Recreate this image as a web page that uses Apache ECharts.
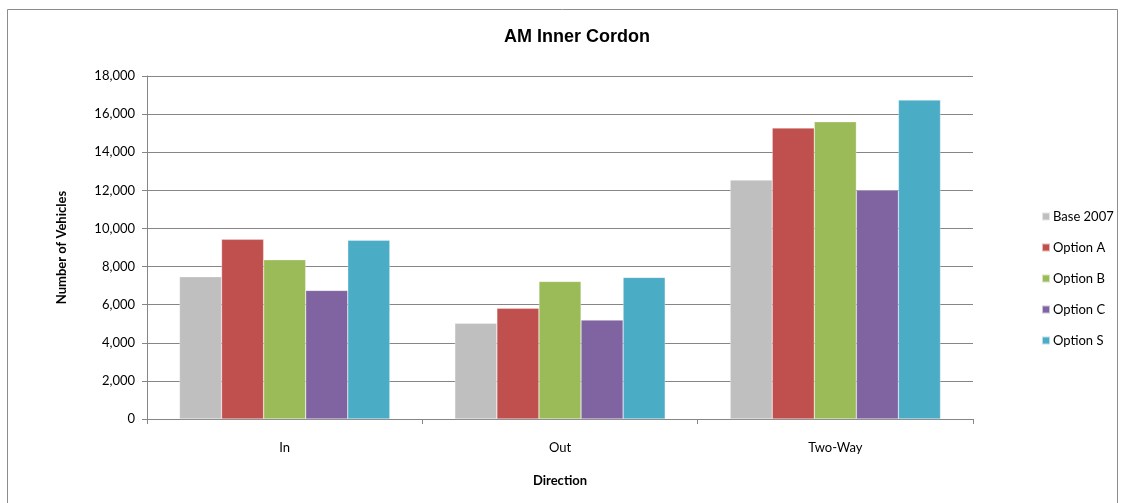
<!DOCTYPE html>
<html><head><meta charset="utf-8">
<script src="https://cdn.jsdelivr.net/npm/echarts@6/dist/echarts.min.js"></script>
<style>html,body{margin:0;padding:0;background:#fff}#c{width:1126px;height:503px}</style>
</head><body><div id="c"></div>
<script>
const categories = ['In', 'Out', 'Two-Way'];
const seriesNames = ['Base 2007', 'Option A', 'Option B', 'Option C', 'Option S'];
const base2007 = [7470, 5020, 12540];
const optionA = [9430, 5810, 15270];
const optionB = [8360, 7220, 15600];
const optionC = [6750, 5190, 12010];
const optionS = [9380, 7430, 16740];
const colors = ['#BFBFBF', '#C0504D', '#9BBB59', '#8064A2', '#4BACC6'];
const values = [base2007, optionA, optionB, optionC, optionS];
const font = 'Lato, "Open Sans", sans-serif';

const chart = echarts.init(document.getElementById('c'));
chart.setOption({
  animation: false,
  backgroundColor: '#fff',
  graphic: [{type:'rect', shape:{x:7.5, y:9.5, width:1110, height:500}, style:{fill:'none', stroke:'#8c8c8c', lineWidth:1}, silent:true}],
  title: {text:'AM Inner Cordon', left:572, top:23, textAlign:'center',
    textStyle:{fontFamily:'Liberation Sans, Arial', fontWeight:'bold', fontSize:18, color:'#000'}},
  legend: {orient:'vertical', left:1036, top:205, itemWidth:8, itemHeight:8, itemGap:18,
    icon:'rect', data:seriesNames, textStyle:{fontFamily:font, fontSize:13, color:'#000', padding:[0,0,0,-2]}},
  grid: {left:147, right:153, top:76, bottom:84, containLabel:false},
  xAxis: {type:'category', data:categories, name:'Direction', nameLocation:'middle', nameGap:55,
    nameTextStyle:{fontFamily:font, fontWeight:'bold', fontSize:13, color:'#000'},
    axisLine:{lineStyle:{color:'#868686'}}, axisTick:{show:true, length:5, lineStyle:{color:'#868686'}},
    axisLabel:{fontFamily:font, fontSize:13, color:'#000', margin:22}},
  yAxis: {type:'value', min:0, max:18000, interval:2000, name:'Number of Vehicles', nameLocation:'middle', nameGap:79,
    nameTextStyle:{fontFamily:font, fontWeight:'bold', fontSize:13, color:'#000'},
    axisLine:{show:true, lineStyle:{color:'#868686'}}, axisTick:{show:true, length:5, lineStyle:{color:'#868686'}},
    splitLine:{lineStyle:{color:'#868686'}},
    axisLabel:{fontFamily:font, fontSize:13, color:'#000', margin:12,
      formatter: v => v.toLocaleString('en-US')}},
  series: seriesNames.map((n,i)=>({name:n, type:'bar', data:values[i], barGap:'0%', barCategoryGap:'23.6%',
    itemStyle:{color:colors[i], borderColor:'rgba(255,255,255,0.6)', borderWidth:0.5}}))
});
</script></body></html>
